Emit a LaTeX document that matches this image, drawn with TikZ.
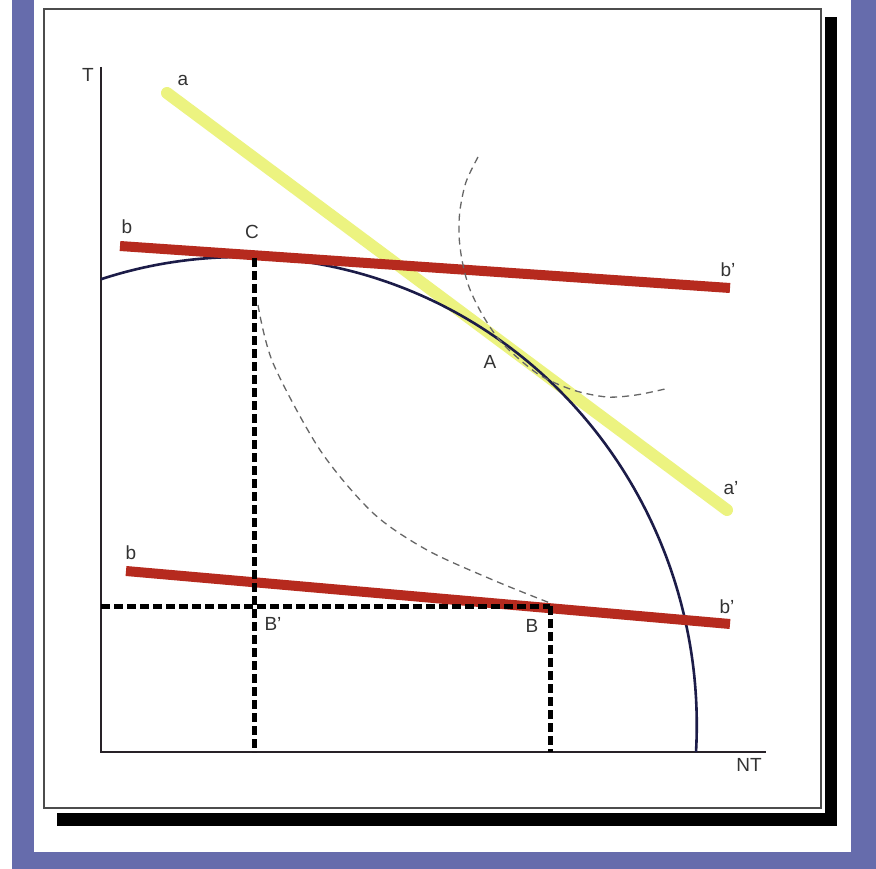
\documentclass[tikz,border=0pt]{standalone}
\usepackage{fontspec}
\setmainfont{Liberation Sans}
\definecolor{frameblue}{RGB}{102,108,172}
\definecolor{redband}{RGB}{182,42,30}
\definecolor{yellowband}{RGB}{236,243,128}
\definecolor{curvenavy}{RGB}{28,28,72}
\definecolor{axisgray}{RGB}{40,34,40}
\begin{document}
\begin{tikzpicture}[x=1pt,y=-1pt,
  lbl/.style={font=\fontsize{19}{22}\selectfont, text=black!80, inner sep=0pt},
  redline/.style={line width=10pt, draw=redband},
  yellowline/.style={line width=12pt, draw=yellowband, line cap=round},
  blackdash/.style={line width=5pt, draw=black, dash pattern=on 9pt off 4pt},
  graydash/.style={line width=1.3pt, draw=gray!80!black, dash pattern=on 7pt off 5pt},
  axisline/.style={line width=2pt, draw=axisgray},
  ppf/.style={line width=2.6pt, draw=curvenavy}]
\useasboundingbox (0,0) rectangle (876,869);
\fill[white] (0,0) rectangle (876,869);
% frame
\fill[frameblue] (12,0) rectangle (34,869);
\fill[frameblue] (851,0) rectangle (876,869);
\fill[frameblue] (12,852) rectangle (876,869);
% shadow bars
\fill[black] (825,17) rectangle (837,826);
\fill[black] (57,813) rectangle (837,826);
% panel
\draw[gray!60!black, line width=1.2pt, fill=white] (44,9) rectangle (821,808);

% coordinates
\coordinate (O) at (101,752);
\coordinate (Ytop) at (101,67);
\coordinate (Xend) at (766,752);
\coordinate (a1) at (167,93);
\coordinate (a2) at (727,510);
\coordinate (b1) at (120,246);
\coordinate (b2) at (730,288);
\coordinate (c1) at (126,571);
\coordinate (c2) at (730,624);
\coordinate (Cp) at (254,258);
\coordinate (Cb) at (254,752);
\coordinate (Bp) at (550,606);
\coordinate (Bb) at (550,752);
\coordinate (Bl) at (101,606);

% yellow budget line a-a'
\draw[yellowline] (a1) -- (a2);

% axes
\draw[axisline] (Ytop) -- (O) -- (Xend);

% production possibility frontier (elliptic arc)
\draw[ppf] plot[domain=-107.72:3.31, samples=120, variable=\t]
  ({240+456.8*cos(\t)}, {725+468*sin(\t)});

% red lines b-b'
\draw[redline] (b1) -- (b2);
\draw[redline] (c1) -- (c2);

% black dashed projections
\draw[blackdash] (Cp) -- (Cb);
\draw[blackdash] (Bl) -- (Bp);
\draw[blackdash] (Bp) -- (Bb);

% gray dashed curves
\draw[graydash] plot[smooth, tension=0.5] coordinates {(478,157) (466,182) (460,210) (459,235) (462,260) (469,287) (482,314) (502,343) (538,374) (573,390) (607,397) (636,395) (665,389)};
\draw[graydash] plot[smooth, tension=0.5] coordinates {(258,305) (273,363) (320,450) (373,513) (427,550) (493,580) (550,603)};

% labels
\node[lbl] (lT) at (88,75) {T};
\node[lbl] (lNT) at (749,765) {NT};
\node[lbl] (la) at (183,80) {a};
\node[lbl] (la2) at (731,488) {a'};
\node[lbl] (lb) at (127,227) {b};
\node[lbl] (lC) at (252,232) {C};
\node[lbl] (lb2) at (728,270) {b'};
\node[lbl] (lA) at (490,362) {A};
\node[lbl] (lb3) at (131,553) {b};
\node[lbl] (lb4) at (727,607) {b'};
\node[lbl] (lB1) at (273,624) {B'};
\node[lbl] (lB) at (532,626) {B};
\end{tikzpicture}
\end{document}
